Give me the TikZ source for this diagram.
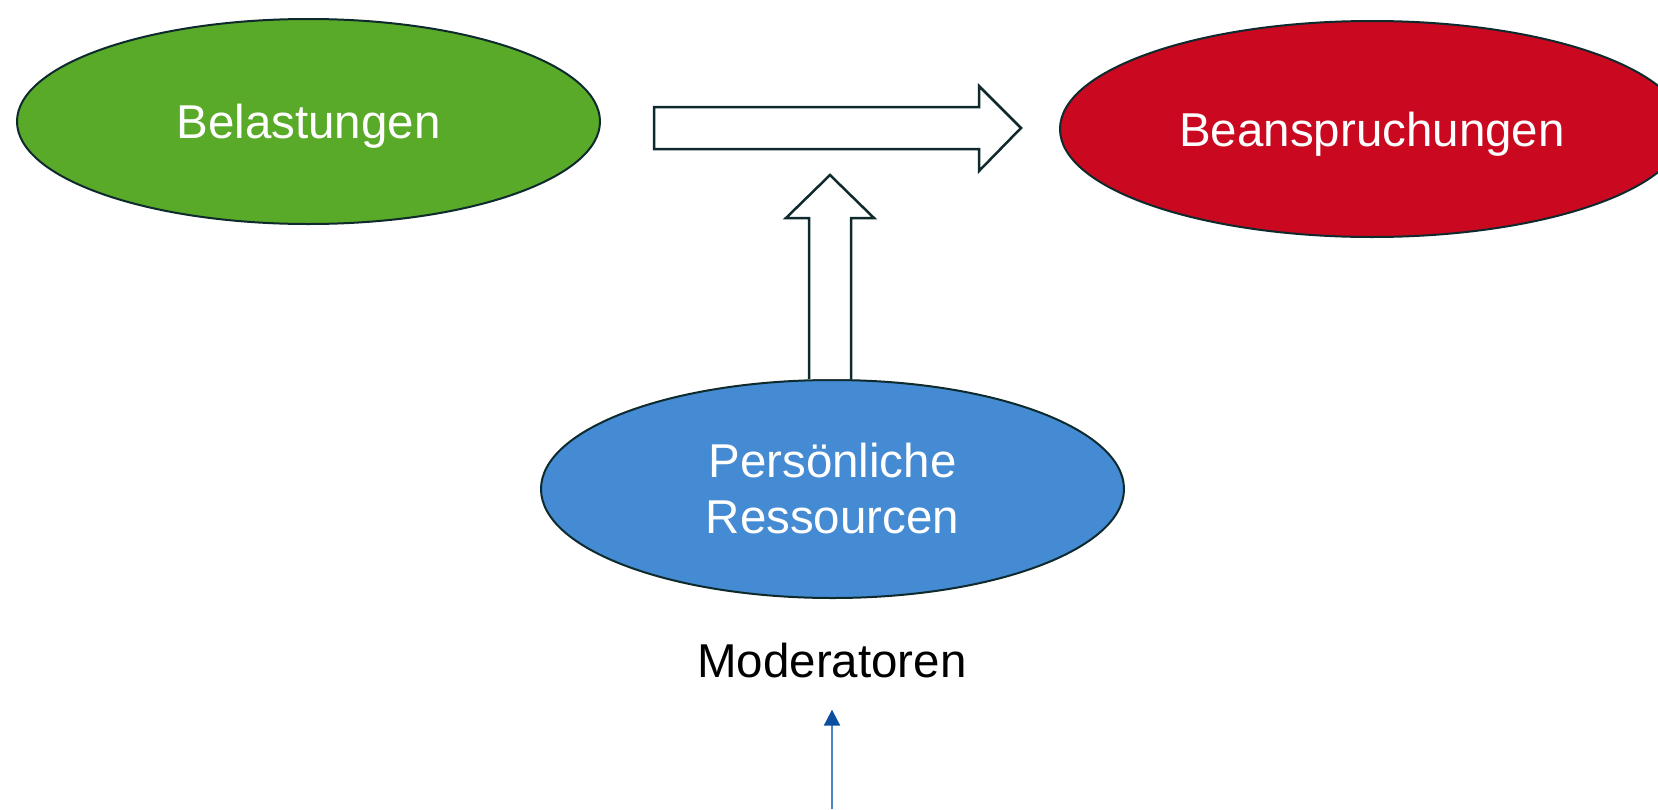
\documentclass[tikz,border=0pt]{standalone}
\usepackage{fontspec}
\setmainfont{Liberation Sans}
\usetikzlibrary{shapes.geometric,arrows.meta,calc}
\definecolor{bgreen}{HTML}{59AA29}
\definecolor{bred}{HTML}{CA0820}
\definecolor{bblue}{HTML}{448BD3}
\definecolor{outl}{HTML}{0E2A2D}
\definecolor{lineblue}{HTML}{4A86C5}
\definecolor{headblue}{HTML}{0B50A0}
\begin{document}
\begin{tikzpicture}[x=1pt,y=-1pt,
  ell/.style={ellipse,draw=outl,line width=2pt,inner sep=0pt,text=white,
    font=\fontsize{47.5}{56}\selectfont,align=center},
  onecap/.style={text height=34pt,text depth=0pt},
  blockarrow/.style={draw=outl,fill=white,line width=2.5pt,line join=miter},
  modarrow/.style={draw=lineblue,line width=2pt,
    -{Triangle[length=16pt,width=16pt,fill=headblue,color=headblue]}}]
\useasboundingbox (0,0) rectangle (1658,809);
\node[ell,onecap,fill=bgreen,minimum width=583,minimum height=205] (bel) at (308.5,121.5) {Belastungen};
\node[ell,onecap,fill=bred,minimum width=624,minimum height=216] (bea) at (1372,129) {Beanspruchungen};
\node[ell,fill=bblue,minimum width=583,minimum height=218] (res) at (832.5,489) {Persönliche\\Ressourcen};
\node[inner sep=0pt,font=\fontsize{47.5}{56}\selectfont] (mod) at (832,661) {Moderatoren};
% horizontal block arrow
\coordinate (hstart) at (654,128);
\coordinate (htip) at (1021,128);
\draw[blockarrow] ($(hstart)+(0,-21)$) -- ($(htip)+(-42,-21)$) -- ($(htip)+(-42,-42)$) -- (htip)
  -- ($(htip)+(-42,43)$) -- ($(htip)+(-42,21)$) -- ($(hstart)+(0,21)$) -- cycle;
% vertical block arrow
\coordinate (vtip) at (830,175);
\coordinate (vl) at ($(vtip)+(-21,0)$);
\coordinate (vr) at ($(vtip)+(21,0)$);
\draw[blockarrow] (vl |- res.north) -- ($(vtip)+(-21,43)$) -- ($(vtip)+(-44,43)$) -- (vtip)
  -- ($(vtip)+(44,43)$) -- ($(vtip)+(21,43)$) -- (vr |- res.north);
% thin arrow
\coordinate (src) at (832,809);
\draw[modarrow] (src) -- ($(mod.south)+(0,31)$);
\end{tikzpicture}
\end{document}
